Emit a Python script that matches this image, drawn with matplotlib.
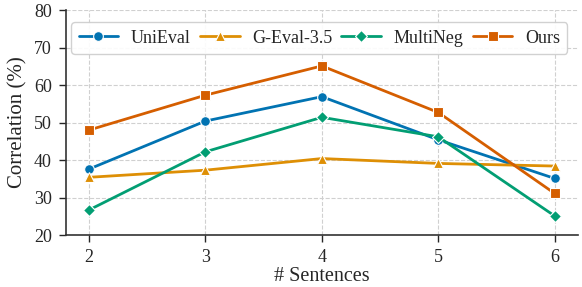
import numpy as np
import matplotlib.pyplot as plt
import seaborn as sns

sns.set_theme(style="ticks")
plt.rcParams['font.family'] = ['Liberation Serif', 'DejaVu Serif']

# Data
sentences = [2, 3, 4, 5, 6]
unieval = [37.6, 50.4, 56.9, 45.4, 35.1]
geval = [35.4, 37.3, 40.4, 39.1, 38.4]
multineg = [26.7, 42.2, 51.4, 46.2, 25.1]
ours = [48.0, 57.3, 65.1, 52.7, 31.1]

names = ['UniEval', 'G-Eval-3.5', 'MultiNeg', 'Ours']
series = [unieval, geval, multineg, ours]
markers = ['o', '^', 'D', 's']
msizes = [7, 7, 6.5, 6.5]
colors = sns.color_palette('colorblind')[:4]

fig = plt.figure(figsize=(5.82, 2.87), dpi=100)
ax = fig.add_axes([0.113, 0.181, 0.88, 0.784])

for name, vals, m, ms, c in zip(names, series, markers, msizes, colors):
    ax.plot(sentences, vals, marker=m, markersize=ms, color=c, linewidth=2,
            markeredgecolor='white', markeredgewidth=0.8, label=name)

ax.set_xlim(1.8, 6.2)
ax.set_ylim(20, 80)
ax.set_xticks(sentences)
ax.set_yticks([20, 30, 40, 50, 60, 70, 80])
ax.tick_params(labelsize=13, length=5, width=1, pad=5)
ax.grid(True, linestyle='--', color='#d0d0d0', linewidth=0.8)
for s in ['top', 'right']:
    ax.spines[s].set_visible(False)
for s in ['left', 'bottom']:
    ax.spines[s].set_color('#333333')
    ax.spines[s].set_linewidth(1.2)

ax.set_xlabel('# Sentences', fontsize=14.5, labelpad=1)
ax.set_ylabel('Correlation (%)', fontsize=15, labelpad=5)

ax.legend(loc='upper center', ncol=4, fontsize=13, handlelength=2.2,
          columnspacing=0.5, handletextpad=0.7, borderpad=0.4,
          bbox_to_anchor=(0.495, 0.985), framealpha=0.9)

fig.savefig('out.png', dpi=100)
